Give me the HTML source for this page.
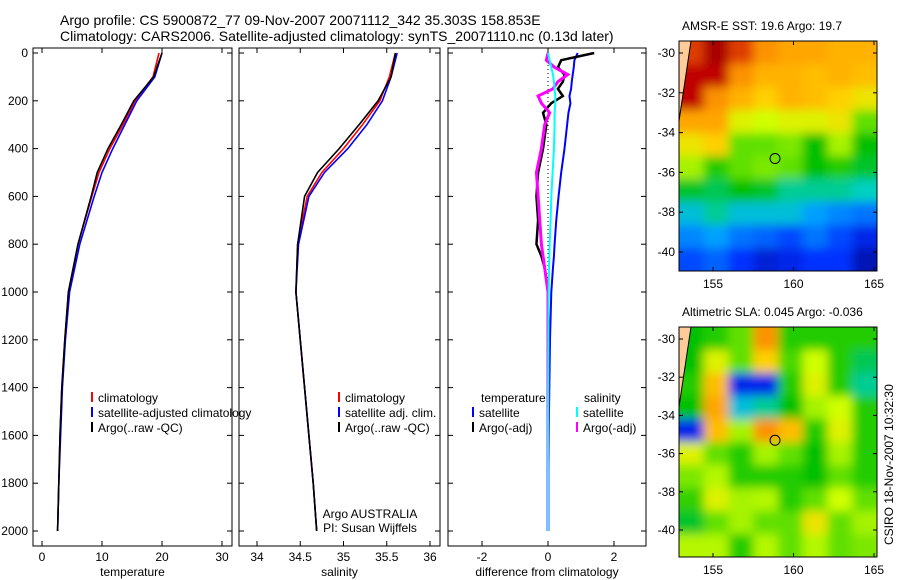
<!DOCTYPE html>
<html><head><meta charset="utf-8"><style>
body{margin:0;background:#fff;}
svg{display:block;font-family:"Liberation Sans",sans-serif;}
text{font-size:12px;fill:#000;}
</style></head><body>
<svg id="s" width="900" height="580">
<text x="60" y="25" style="font-size:14px">Argo profile: CS 5900872_77 09-Nov-2007 20071112_342 35.303S 158.853E</text>
<text x="60" y="41" style="font-size:14px">Climatology: CARS2006. Satellite-adjusted climatology: synTS_20071110.nc (0.13d later)</text>
<text x="682" y="30">AMSR-E SST: 19.6 Argo: 19.7</text>
<text x="682" y="316">Altimetric SLA: 0.045 Argo: -0.036</text>
<text transform="translate(893,545) rotate(-90)">CSIRO 18-Nov-2007 10:32:30</text>
</svg>
<script>
// ---- data ----
const depths=[0,100,200,300,400,500,600,800,1000,1200,1400,1600,1800,2000];
const tempClim=[19.5,18.5,15.5,13.5,11.3,9.5,8.3,6,4.4,3.8,3.3,3,2.8,2.6];
const tempSat=[20,18.8,15.8,13.8,11.8,10,8.7,6.3,4.6,3.9,3.4,3.1,2.8,2.6];
const tempArgo=[20,18.6,15.3,13.2,11,9.2,8.2,6,4.4,3.8,3.3,3,2.8,2.6];
const salClim=[35.6,35.53,35.42,35.22,35.0,34.75,34.58,34.47,34.45,34.5,34.55,34.6,34.65,34.69];
const salSat=[35.62,35.55,35.45,35.27,35.05,34.78,34.6,34.48,34.45,34.5,34.55,34.6,34.65,34.69];
const salArgo=[35.6,35.55,35.4,35.18,34.95,34.7,34.55,34.47,34.45,34.5,34.55,34.6,34.65,34.69];
const diffDepths=[0,30,60,90,120,150,180,210,250,300,400,500,600,700,800,850,900,1000,1200,1500,2000];
const dSatT=[0.9,0.8,0.78,0.75,0.72,0.7,0.65,0.68,0.62,0.58,0.5,0.4,0.32,0.25,0.2,0.18,0.15,0.1,0.06,0.03,0];
const dSatS=[0,0.05,0.1,0.15,0.18,0.2,0.22,0.22,0.2,0.2,0.18,0.14,0.1,0.08,0.05,0.04,0.03,0.02,0.01,0,0];
const dArgoT=[1.4,0.4,0.3,0.5,0.45,0.3,0.45,0.1,-0.15,-0.05,-0.15,-0.3,-0.35,-0.3,-0.35,-0.2,-0.1,0,0,0,0];
const dArgoS=[0,-0.05,0.2,0.6,0.3,0.15,-0.3,-0.2,0.05,-0.1,-0.2,-0.35,-0.3,-0.25,-0.2,-0.15,-0.1,0,0,0,0];
const depthTicks=[0,200,400,600,800,1000,1200,1400,1600,1800,2000];
const tempTicks=[0,10,20,30];
const salTicks=[34,34.5,35,35.5,36];
const diffTicks=[-2,0,2];
const sstGrid=[
[0.85,0.95,0.85,0.75,0.72,0.72,0.7,0.7],
[0.9,0.9,0.75,0.7,0.7,0.68,0.7,0.68],
[0.9,0.75,0.7,0.65,0.7,0.68,0.65,0.62],
[0.72,0.72,0.6,0.58,0.6,0.6,0.62,0.5],
[0.62,0.65,0.5,0.5,0.52,0.42,0.55,0.42],
[0.55,0.45,0.5,0.52,0.5,0.42,0.45,0.4],
[0.4,0.38,0.42,0.4,0.35,0.35,0.35,0.33],
[0.3,0.35,0.3,0.3,0.3,0.25,0.22,0.2],
[0.22,0.25,0.2,0.18,0.15,0.2,0.15,0.1],
[0.15,0.18,0.12,0.08,0.1,0.12,0.12,0.05]];
const slaGrid=[
[0.42,0.45,0.5,0.75,0.45,0.45,0.45,0.45],
[0.42,0.6,0.5,0.65,0.48,0.58,0.45,0.38],
[0.45,0.68,0.1,0.1,0.45,0.6,0.45,0.35],
[0.42,0.72,0.3,0.35,0.42,0.55,0.58,0.45],
[0.1,0.68,0.55,0.75,0.68,0.45,0.6,0.45],
[0.6,0.5,0.45,0.55,0.5,0.42,0.55,0.45],
[0.52,0.56,0.45,0.45,0.45,0.42,0.5,0.45],
[0.46,0.6,0.55,0.56,0.45,0.5,0.58,0.5],
[0.4,0.5,0.55,0.5,0.5,0.62,0.5,0.55],
[0.56,0.56,0.45,0.56,0.5,0.56,0.5,0.52]];
const lonTicks=[155,160,165];
const latTicks=[-30,-32,-34,-36,-38,-40];
const argoLon=158.853, argoLat=-35.303;

const NS='http://www.w3.org/2000/svg';
const svg=document.getElementById('s');
function mk(tag,attrs,parent){const e=document.createElementNS(NS,tag);for(const k in attrs)e.setAttribute(k,attrs[k]);(parent||svg).appendChild(e);return e;}
function txt(x,y,s,anchor,parent){const t=mk('text',{x:x,y:y,'text-anchor':anchor||'start'},parent);t.textContent=s;return t;}
const yD=d=>53+d*(478/2000);
function panel(name,x0,x1,xs,ticks,label,fmt){
  const g=mk('g',{});
  
  
  mk('rect',{x:x0,y:48,width:x1-x0,height:498,fill:'none',stroke:'#000','stroke-width':1},g);
  ticks.forEach(v=>{const x=xs(v);mk('line',{x1:x,x2:x,y1:546,y2:541,stroke:'#000'},g);mk('line',{x1:x,x2:x,y1:48,y2:53,stroke:'#000'},g);txt(x,561,fmt(v),'middle',g);});
  depthTicks.forEach(d=>{const y=yD(d);mk('line',{x1:x0,x2:x0+5,y1:y,y2:y,stroke:'#000'},g);mk('line',{x1:x1,x2:x1-5,y1:y,y2:y,stroke:'#000'},g);});
  const t=txt((x0+x1)/2,576,label,'middle',g);
  
  
  return g;
}
function line(g,xs,ds,vals,color,w,name){
  const p=mk('polyline',{points:vals.map((v,i)=>xs(v)+','+yD(ds[i])).join(' '),fill:'none',stroke:color,'stroke-width':w},g);
  
  
}
const xT=v=>42+v*6;
const gT=panel('temperature-panel',33,232,xT,tempTicks,'temperature',v=>String(v));
depthTicks.forEach(d=>txt(28,yD(d)+4,String(d),'end'));
line(gT,xT,depths,tempClim,'#f00',1.6,'temp-climatology-line');
line(gT,xT,depths,tempSat,'#00f',1.6,'temp-satellite-line');
line(gT,xT,depths,tempArgo,'#000',1.6,'temp-argo-line');
function legend(g,x,y,items){items.forEach((it,i)=>{mk('line',{x1:x,x2:x,y1:y+i*15-10,y2:y+i*15,stroke:it[0],'stroke-width':2},g);const t=txt(x+6,y+i*15,it[1],'start',g);});}
legend(gT,92,402,[['#f00','climatology'],['#00f','satellite-adjusted climatology'],['#000','Argo(..raw -QC)']]);
const xS=v=>257+(v-34)*86.5;
const gS=panel('salinity-panel',239,440,xS,salTicks,'salinity',v=>String(v));
line(gS,xS,depths,salClim,'#f00',1.6,'sal-climatology-line');
line(gS,xS,depths,salSat,'#00f',1.6,'sal-satellite-line');
line(gS,xS,depths,salArgo,'#000',1.6,'sal-argo-line');
legend(gS,339,402,[['#f00','climatology'],['#00f','satellite adj. clim.'],['#000','Argo(..raw -QC)']]);
txt(370,518,'Argo AUSTRALIA','middle',gS);
txt(370,532,'PI: Susan Wijffels','middle',gS);
const xF=v=>548+v*33;
const gF=panel('difference-panel',448,646,xF,diffTicks,'difference from climatology',v=>String(v));
mk('line',{x1:xF(0),x2:xF(0),y1:53,y2:531,stroke:'#000','stroke-dasharray':'1,3'},gF);
line(gF,xF,diffDepths,dSatT,'#00f',2,'diff-satellite-temp-line');
line(gF,xF,diffDepths,dArgoT,'#000',2.5,'diff-argo-temp-line');
line(gF,xF,diffDepths,dArgoS,'#f0f',3,'diff-argo-sal-line');
line(gF,xF,diffDepths,dSatS,'#0ff',2,'diff-satellite-sal-line');
txt(481,402,'temperature','start',gF);txt(584,402,'salinity','start',gF);
legend(gF,473,417,[['#00f','satellite'],['#000','Argo(-adj)']]);
legend(gF,577,417,[['#0ff','satellite'],['#f0f','Argo(-adj)']]);
// colormap
const cmStops=[[0,[0,0,128]],[0.12,[0,48,255]],[0.25,[0,160,255]],[0.33,[0,208,192]],[0.42,[0,192,0]],[0.5,[96,224,0]],[0.58,[208,255,0]],[0.65,[255,208,0]],[0.73,[255,160,0]],[0.82,[240,96,0]],[0.9,[192,0,0]],[1,[144,0,0]]];
function cmap(v){for(let i=1;i<cmStops.length;i++){if(v<=cmStops[i][0]){const a=cmStops[i-1],b=cmStops[i],t=(v-a[0])/(b[0]-a[0]);return 'rgb('+a[1].map((c,k)=>Math.round(c+(b[1][k]-c)*t)).join(',')+')';}}return 'rgb(144,0,0)';}
function map(name,y0,lat30,grid){
  const x0=679,x1=877,y1=y0+230;
  const g=mk('g',{});
  
  
  const id=name+'-clip';
  const defs=mk('defs',{},g);
  const cp=mk('clipPath',{id:id},defs);mk('rect',{x:x0,y:y0,width:x1-x0,height:y1-y0},cp);
  const f=mk('filter',{id:name+'-blur',x:'-10%',y:'-10%',width:'120%',height:'120%'},defs);mk('feGaussianBlur',{stdDeviation:5},f);
  const cg=mk('g',{'clip-path':`url(#${id})`},g);
  const bg=mk('g',{filter:`url(#${name}-blur)`},cg);
  const rows=grid.length,cols=grid[0].length,cw=(x1-x0)/cols,ch=(y1-y0)/rows;
  grid.forEach((row,r)=>row.forEach((v,c)=>{const cell=mk('rect',{x:x0+c*cw-12*(c==0),y:y0+r*ch-12*(r==0),width:cw+1+12*(c==0||c==cols-1),height:ch+1+12*(r==0||r==rows-1),fill:cmap(v)},bg);}));
  const lx=v=>713+(v-155)*16.1, ly=v=>lat30+(-30-v)*((lat30===53?199:191)/10);
  mk('polygon',{points:`${x0},${y0} ${x0+12},${y0} ${x0+6},${y0+40} ${x0},${y0+80}`,fill:'#fc9',stroke:'#000'},cg);
  mk('rect',{x:x0,y:y0,width:x1-x0,height:y1-y0,fill:'none',stroke:'#000'},g);
  lonTicks.forEach(v=>{const x=lx(v);mk('line',{x1:x,x2:x,y1:y1,y2:y1-4,stroke:'#000'},g);mk('line',{x1:x,x2:x,y1:y0,y2:y0+4,stroke:'#000'},g);txt(x,y1+17,String(v),'middle',g);});
  latTicks.forEach(v=>{const y=ly(v);mk('line',{x1:x0,x2:x0+4,y1:y,y2:y,stroke:'#000'},g);mk('line',{x1:x1,x2:x1-4,y1:y,y2:y,stroke:'#000'},g);txt(x0-4,y+4,String(v),'end',g);});
  const c=mk('circle',{cx:lx(argoLon),cy:ly(argoLat),r:5,fill:'none',stroke:'#000'},g);
  
  
}
map('sst-map',41,53,sstGrid);
map('sla-map',327,339,slaGrid);
</script>
</body></html>
